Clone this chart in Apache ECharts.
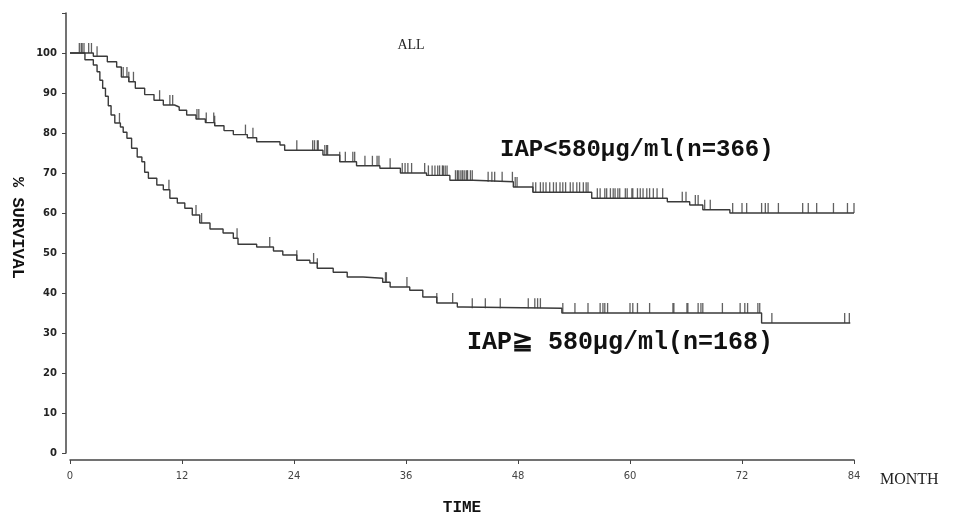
<!DOCTYPE html>
<html lang="en">
<head>
    <meta charset="UTF-8">
    <title>ALL - survival by IAP</title>
    <style>
        html, body { margin: 0; padding: 0; background: #fff; }
        #main { width: 953px; height: 520px; }
    </style>
</head>
<body>
<div id="main"></div>
<script src="https://cdn.jsdelivr.net/npm/echarts@6/dist/echarts.min.js"></script>
<script>
    // 月份刻度
    var monthTicks = [0, 12, 24, 36, 48, 60, 72, 84];
    var survTicks = [0, 10, 20, 30, 40, 50, 60, 70, 80, 90, 100];

    // IAP<580 (n=366)
    var lowIapTimes = [0, 2.5, 4.0, 5.0, 5.5, 6.3, 7.0, 8.0, 9.0, 10.0, 11.2, 11.7, 12.5, 13.5, 14.5, 15.5, 16.5, 17.5, 19.0, 20.0, 22.5, 23.0, 27.1, 28.9, 30.7, 33.2, 35.4, 38.2, 40.7, 43.2, 47.5, 49.6, 55.9, 64.0, 66.4, 67.8, 70.7, 84];
    var lowIapSurv = [100, 99.2, 97.8, 96.5, 94.0, 92.8, 91.2, 89.6, 88.2, 87.0, 86.5, 85.7, 84.5, 83.5, 82.6, 81.8, 80.6, 79.6, 78.8, 77.8, 77.0, 75.7, 74.5, 72.8, 71.8, 71.2, 70.0, 69.4, 68.2, 67.8, 66.5, 65.2, 63.7, 62.8, 62.0, 60.8, 60.0, 60.0];
    var lowIapCensor = [1.0, 1.2, 1.3, 1.5, 2.0, 2.3, 2.9, 5.7, 6.1, 6.3, 6.8, 9.6, 10.7, 11.0, 13.6, 13.8, 14.6, 15.4, 15.5, 18.8, 19.6, 24.3,
        26.0, 26.2, 26.5, 26.6, 27.3, 27.5, 27.6, 28.9, 29.5, 30.3, 30.5, 31.6, 32.4, 32.9, 33.1, 34.3, 35.6, 35.9, 36.2, 36.6,
        38.0, 38.4, 38.8, 39.1, 39.4, 39.6, 39.9, 40.0, 40.2, 40.4, 41.3, 41.5, 41.6, 41.8, 42.0, 42.1, 42.3, 42.5, 42.6, 42.9, 43.1,
        44.8, 45.2, 45.5, 46.3, 47.4, 47.7, 47.9, 49.6, 49.9, 50.4, 50.7, 51.0, 51.4, 51.8, 52.1, 52.5, 52.8, 53.1, 53.6, 53.9, 54.3,
        54.6, 55.0, 55.3, 55.5, 56.5, 56.8, 57.3, 57.5, 57.9, 58.2, 58.4, 58.7, 58.9, 59.5, 59.7, 60.2, 60.3, 60.8, 61.1, 61.4, 61.8,
        62.1, 62.5, 62.9, 63.5, 65.6, 66.0, 67.0, 67.3, 68.0, 68.6, 71.0, 72.0, 72.5, 74.1, 74.5, 74.8, 75.9, 78.5, 79.1, 80.0, 81.8, 83.3, 84.0];

    // IAP≧580 (n=168)
    var highIapTimes = [0, 1.6, 2.5, 2.9, 3.2, 3.5, 3.8, 4.1, 4.4, 4.8, 5.4, 5.7, 6.1, 6.6, 7.2, 7.7, 8.0, 8.4, 9.3, 10.0, 10.7, 11.5, 12.3, 13.1, 13.9, 15.0, 16.4, 17.5, 18.0, 20.0, 21.8, 22.8, 24.3, 25.7, 26.5, 28.2, 29.7, 31.4, 33.5, 34.3, 36.4, 37.8, 39.3, 41.5, 42.1, 52.7, 74.1, 83.6];
    var highIapSurv = [100, 98.3, 97.0, 95.3, 93.2, 91.2, 89.2, 86.8, 84.5, 82.5, 81.5, 80.2, 78.7, 76.2, 74.0, 72.8, 70.2, 68.7, 67.0, 65.8, 63.7, 62.5, 61.2, 59.5, 57.5, 56.0, 55.0, 53.7, 52.2, 51.5, 50.5, 49.5, 48.2, 47.5, 46.2, 45.2, 44.0, 43.7, 42.7, 41.5, 40.7, 39.0, 37.5, 36.5, 36.2, 35.0, 32.5, 32.5];
    var highIapCensor = [5.3, 10.6, 13.5, 14.1, 17.9, 21.4, 24.3, 26.1, 26.5, 33.8, 33.9, 36.1, 39.3, 41.0, 43.1, 44.5, 46.1, 49.1, 49.8, 50.1, 50.4,
        52.8, 54.1, 55.5, 56.8, 57.1, 57.3, 57.6, 60.0, 60.3, 60.8, 62.1, 64.6, 64.7, 66.1, 66.2, 67.3, 67.6, 67.8, 69.9,
        71.8, 72.3, 72.6, 73.7, 73.9, 75.2, 83.0, 83.5];

    function pairs(times, surv) {
        var out = [];
        for (var i = 0; i < times.length; i++) out.push([times[i], surv[i]]);
        return out;
    }

    // survival value at time t from the step curve
    function survAt(times, surv, t) {
        var v = surv[0];
        for (var i = 0; i < times.length; i++) {
            if (times[i] <= t) v = surv[i];
        }
        return v;
    }

    function censorPoints(censor, times, surv) {
        return censor.map(function (t) { return [t, survAt(times, surv, t)]; });
    }

    var lineColor = '#3a3a3a';
    var chart = echarts.init(document.getElementById('main'));

    var option = {
        backgroundColor: '#fff',
        animation: false,
        grid: { left: 70, right: 99, top: 13, bottom: 67 },
        xAxis: {
            type: 'value',
            min: 0,
            max: 84,
            interval: 12,
            offset: 7,
            splitLine: { show: false },
            axisLine: { onZero: false, lineStyle: { color: '#444', width: 1.5 } },
            axisTick: { length: 4, lineStyle: { color: '#444' } },
            axisLabel: {
                margin: 11,
                color: '#444',
                fontFamily: 'DejaVu Sans',
                fontSize: 10,
                formatter: function (v) { return monthTicks.indexOf(v) >= 0 ? String(v) : ''; }
            }
        },
        yAxis: {
            type: 'value',
            min: 0,
            max: 110,
            interval: 10,
            offset: 4,
            splitLine: { show: false },
            axisLine: { show: true, onZero: false, lineStyle: { color: '#444', width: 1.5 } },
            axisTick: { show: true, length: 4, lineStyle: { color: '#444' } },
            axisLabel: {
                margin: 9,
                color: '#222',
                fontFamily: 'DejaVu Sans',
                fontWeight: 'bold',
                fontSize: 10,
                formatter: function (v) { return survTicks.indexOf(v) >= 0 ? String(v) : ''; }
            }
        },
        series: [
            {
                name: 'IAP<580',
                type: 'line',
                step: 'end',
                showSymbol: false,
                lineStyle: { color: lineColor, width: 1.4 },
                data: pairs(lowIapTimes, lowIapSurv)
            },
            {
                name: 'IAP>=580',
                type: 'line',
                step: 'end',
                showSymbol: false,
                lineStyle: { color: lineColor, width: 1.4 },
                data: pairs(highIapTimes, highIapSurv)
            },
            {
                type: 'scatter',
                symbol: 'rect',
                symbolSize: [1.3, 10],
                symbolOffset: [0, -5],
                itemStyle: { color: lineColor },
                data: censorPoints(lowIapCensor, lowIapTimes, lowIapSurv)
            },
            {
                type: 'scatter',
                symbol: 'rect',
                symbolSize: [1.3, 10],
                symbolOffset: [0, -5],
                itemStyle: { color: lineColor },
                data: censorPoints(highIapCensor, highIapTimes, highIapSurv)
            }
        ],
        graphic: [
            {
                type: 'text', x: 411, y: 45,
                style: { text: 'ALL', font: '14px "Liberation Serif"', fill: '#222', align: 'center', verticalAlign: 'middle' }
            },
            {
                type: 'text', x: 500, y: 150,
                style: { text: 'IAP<580μg/ml(n=366)', font: 'bold 24px "Liberation Mono"', fill: '#111', align: 'left', verticalAlign: 'middle' }
            },
            {
                type: 'text', x: 467, y: 343,
                style: { text: 'IAP≧ 580μg/ml(n=168)', font: 'bold 25px "Liberation Mono"', fill: '#111', align: 'left', verticalAlign: 'middle' }
            },
            {
                type: 'text', x: 17, y: 228, rotation: -Math.PI / 2,
                style: { text: '% SURVIVAL', font: 'bold 17px "Liberation Mono"', fill: '#111', align: 'center', verticalAlign: 'middle' }
            },
            {
                type: 'text', x: 462, y: 508,
                style: { text: 'TIME', font: 'bold 16px "Liberation Mono"', fill: '#111', align: 'center', verticalAlign: 'middle' }
            },
            {
                type: 'text', x: 880, y: 480,
                style: { text: 'MONTH', font: '16px "Liberation Serif"', fill: '#222', align: 'left', verticalAlign: 'middle' }
            }
        ]
    };

    chart.setOption(option);
</script>
</body>
</html>
